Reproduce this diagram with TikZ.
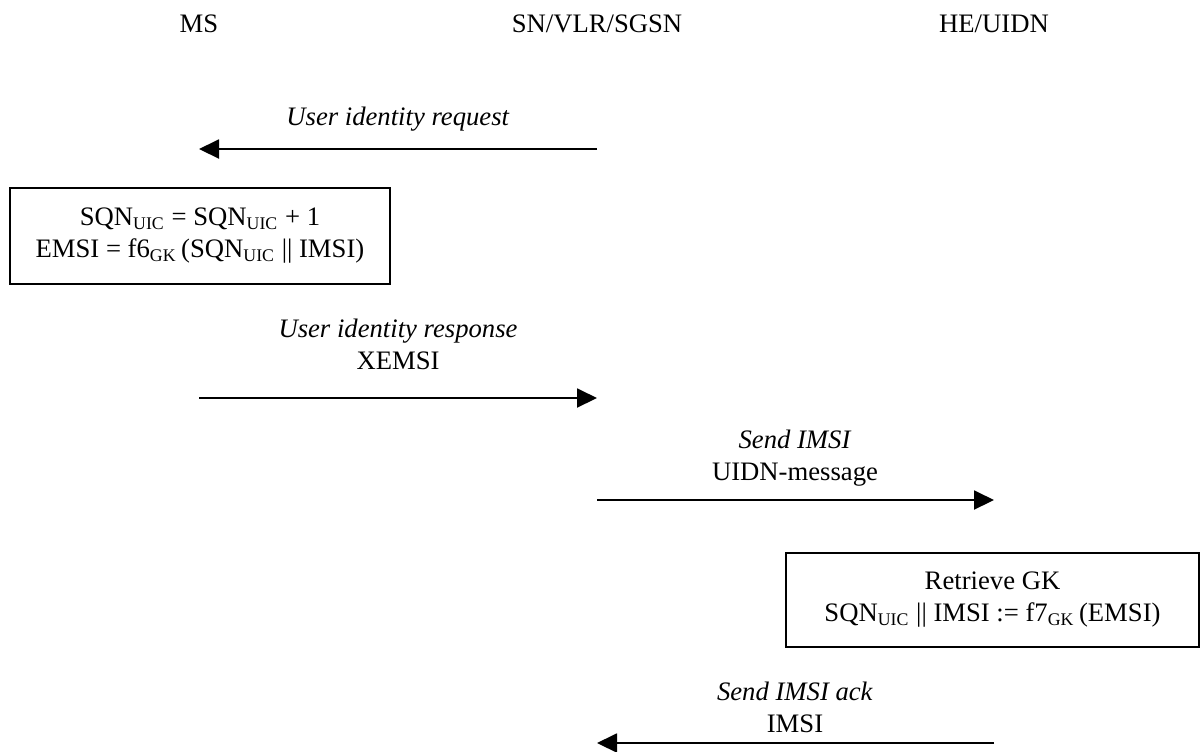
\documentclass[tikz,border=0pt]{standalone}
\usepackage{fontspec}
\setmainfont{Liberation Serif}
\usetikzlibrary{arrows.meta,positioning}
\newcommand{\idx}[1]{\textsubscript{#1}}
\tikzset{
  txt/.style={font=\fontsize{12}{14.4}\selectfont,inner sep=1pt},
  lbl/.style={txt,align=center},
  msg/.style={-{Triangle[length=9pt,width=8.6pt]},line width=0.7pt},
  procbox/.style={txt,draw,line width=0.9pt,align=center}
}
\begin{document}
\begin{tikzpicture}[x=0.45pt,y=-0.45pt]
\useasboundingbox (0,0) rectangle (1201,751);
% entities
\node[txt] (ms) at (199,24) {MS};
\node[txt] (sn) at (597,24) {SN/VLR/SGSN};
\node[txt] (he) at (994,24) {HE/UIDN};
% user identity request
\coordinate (req-s) at (597,149);
\coordinate (req-t) at (199,149);
\node[lbl] (req-l) at (398,119) {\textit{User identity request}};
\draw[msg] (req-s) -- (req-t);
% MS computes EMSI
\node[procbox,minimum width=171pt,minimum height=43.2pt] (emsi) at (200,236)
  {SQN\idx{UIC} = SQN\idx{UIC} + 1\\EMSI = f6\idx{GK}\,(SQN\idx{UIC} || IMSI)};
% user identity response
\coordinate (rsp-s) at (199,398);
\coordinate (rsp-t) at (597,398);
\node[lbl] (rsp-l) at (398,344) {\textit{User identity response}\\XEMSI};
\draw[msg] (rsp-s) -- (rsp-t);
% send IMSI
\coordinate (snd-s) at (597,500);
\coordinate (snd-t) at (994,500);
\node[lbl] (snd-l) at (795,458) {\textit{Send IMSI}\\UIDN-message};
\draw[msg] (snd-s) -- (snd-t);
% HE retrieves GK
\node[procbox,minimum width=185.9pt,minimum height=42.3pt] (gk) at (992.5,600)
  {Retrieve GK\\SQN\idx{UIC} || IMSI := f7\idx{GK}\,(EMSI)};
% send IMSI ack
\coordinate (ack-s) at (994,743);
\coordinate (ack-t) at (597,743);
\node[lbl] (ack-l) at (795,707) {\textit{Send IMSI ack}\\IMSI};
\draw[msg] (ack-s) -- (ack-t);
\end{tikzpicture}
\end{document}
